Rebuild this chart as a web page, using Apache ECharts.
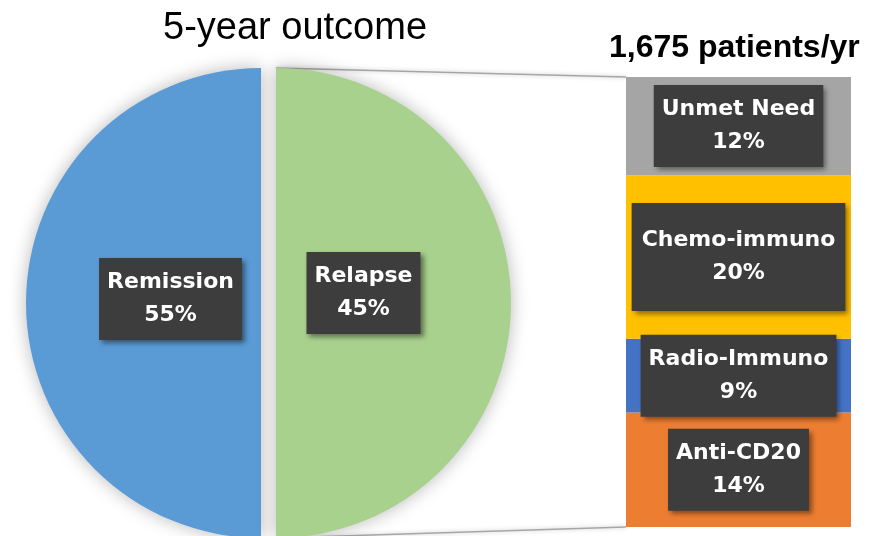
<!DOCTYPE html>
<html>
<head>
<meta charset="utf-8">
<script src="https://cdn.jsdelivr.net/npm/echarts@6/dist/echarts.min.js"></script>
<style>
  html, body { margin: 0; padding: 0; background: #fff; }
  #main { width: 888px; height: 536px; }
</style>
</head>
<body>
<div id="main"></div>
<script>
// pie: 5-year outcome
const pieNames = ['Remission', 'Relapse'];
const piePercentLabels = [55, 45];
const remissionValue = 55;

// bar: breakdown of the relapse slice (top to bottom)
const barNames = ['Unmet Need', 'Chemo-immuno', 'Radio-Immuno', 'Anti-CD20'];
const barValues = [12, 20, 9, 14];

const pieColors = ['#5b9bd5', '#a9d18e'];
const barColors = ['#a5a5a5', '#ffc000', '#4472c4', '#ed7d31'];

// like an Excel bar-of-pie, the "other" slice is the total of the bar
const otherValue = barValues.reduce((a, b) => a + b, 0);

const cx = 261, cy = 303, r = 235, offset = 15;
const gridLeft = 626, gridRight = 37, gridTop = 77, gridBottom = 9;

const labelBox = {
    color: '#fff',
    fontFamily: 'DejaVu Sans',
    fontWeight: 'bold',
    fontSize: 22,
    lineHeight: 33,
    backgroundColor: '#3d3d3d',
    padding: [8, 8],
    shadowColor: 'rgba(0,0,0,0.45)',
    shadowBlur: 5,
    shadowOffsetX: 3,
    shadowOffsetY: 3
};

const chart = echarts.init(document.getElementById('main'));

const barSeries = [];
for (let i = barNames.length - 1; i >= 0; i--) {
    const lbl = Object.assign({}, labelBox, {
        show: true,
        position: 'inside',
        formatter: '{a}\n{c}%'
    });
    if (barNames[i] === 'Chemo-immuno') lbl.padding = [21, 10];
    barSeries.push({
        name: barNames[i],
        type: 'bar',
        stack: 'relapse',
        barWidth: '100%',
        itemStyle: { color: barColors[i] },
        label: lbl,
        emphasis: { disabled: true },
        data: [barValues[i]]
    });
}

chart.setOption({
    animation: false,
    title: [{
        text: '5-year outcome',
        left: 158,
        top: 5,
        textStyle: { fontFamily: 'Liberation Sans', fontSize: 38, fontWeight: 'normal', color: '#000' }
    }, {
        text: '1,675 patients/yr',
        left: 604,
        top: 27,
        textStyle: { fontFamily: 'Liberation Sans', fontSize: 32, fontWeight: 'bold', color: '#000' }
    }],
    grid: { left: gridLeft, right: gridRight, top: gridTop, bottom: gridBottom },
    xAxis: { type: 'category', data: [''], show: false },
    yAxis: { type: 'value', min: 0, max: otherValue, show: false },
    series: [{
        type: 'pie',
        center: [cx, cy],
        radius: [0, r],
        startAngle: 270,
        clockwise: true,
        selectedMode: 'single',
        selectedOffset: offset,
        avoidLabelOverlap: false,
        itemStyle: {
            shadowBlur: 18,
            shadowColor: 'rgba(0,0,0,0.28)'
        },
        label: Object.assign({}, labelBox, {
            show: true,
            position: 'inside',
            formatter: p => p.name + '\n' + piePercentLabels[p.dataIndex] + '%'
        }),
        labelLayout: p => (p.dataIndex === 0 ? { dx: 15, dy: -2 } : { dx: -33, dy: -10 }),
        labelLine: { show: false },
        emphasis: { disabled: true },
        data: [
            { name: pieNames[0], value: remissionValue, itemStyle: { color: pieColors[0] } },
            { name: pieNames[1], value: otherValue, selected: true, itemStyle: { color: pieColors[1] } }
        ]
    }].concat(barSeries)
});

// connector lines from the relapse slice to the bar
const barTop = chart.convertToPixel({ gridIndex: 0 }, [0, otherValue])[1];
const barBottom = chart.convertToPixel({ gridIndex: 0 }, [0, 0])[1];
const lineStyle = { stroke: '#a6a6a6', lineWidth: 1.5, shadowBlur: 4, shadowColor: 'rgba(0,0,0,0.25)' };
chart.setOption({
    graphic: [{
        type: 'line',
        z: -1,
        shape: { x1: cx + offset, y1: cy - r, x2: gridLeft, y2: barTop },
        style: lineStyle
    }, {
        type: 'line',
        z: -1,
        shape: { x1: cx + offset, y1: cy + r, x2: gridLeft, y2: barBottom },
        style: lineStyle
    }]
});
</script>
</body>
</html>
